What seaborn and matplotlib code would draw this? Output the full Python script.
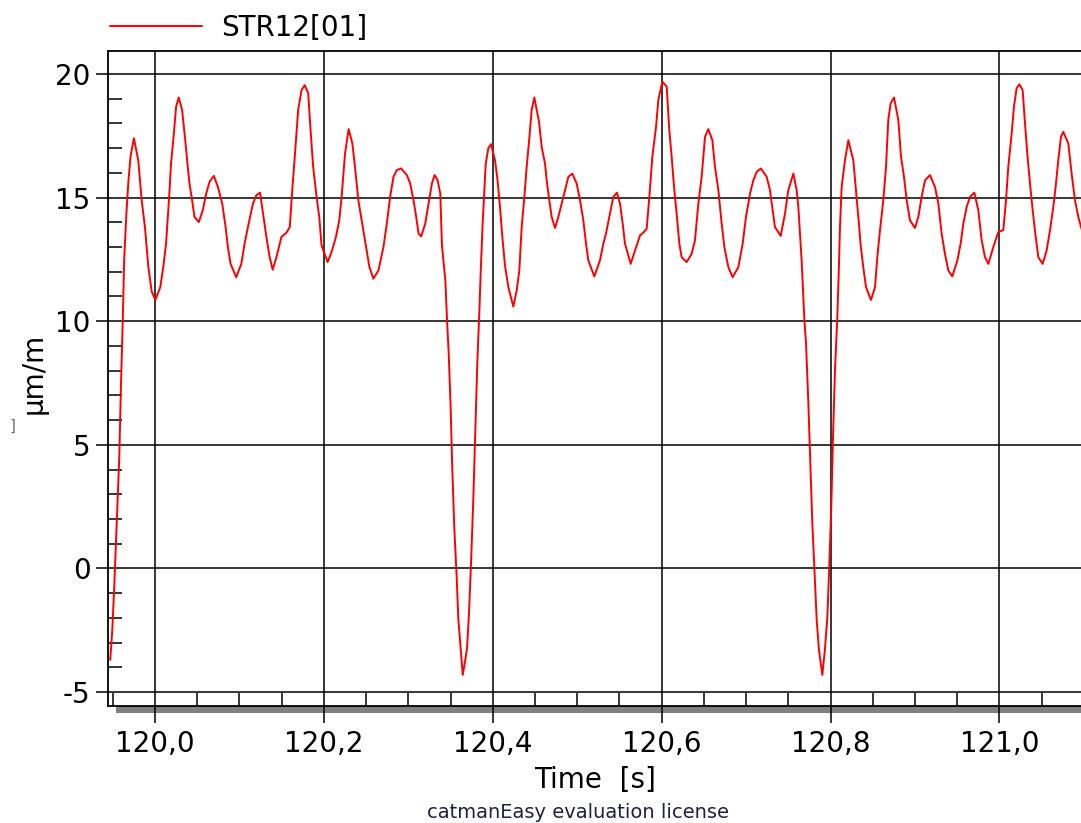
import numpy as np
import pandas as pd
import matplotlib
matplotlib.use("Agg")
import matplotlib.pyplot as plt
import seaborn as sns
from matplotlib.ticker import FixedLocator, FuncFormatter
from matplotlib.patches import Rectangle

# ---------------- data ----------------
time_s = [
    119.9470, 119.9494, 119.9518, 119.9546, 119.9577, 119.9597, 119.9618, 119.9635,
    119.9662, 119.9686, 119.9712, 119.9750, 119.9802, 119.9842, 119.9881, 119.9921,
    119.9961, 120.0004, 120.0063, 120.0103, 120.0131, 120.0150, 120.0170, 120.0190,
    120.0218, 120.0250, 120.0281, 120.0321, 120.0360, 120.0388, 120.0408, 120.0440,
    120.0467, 120.0519, 120.0566, 120.0606, 120.0646, 120.0697, 120.0745, 120.0796,
    120.0836, 120.0863, 120.0895, 120.0962, 120.1022, 120.1061, 120.1109, 120.1160,
    120.1200, 120.1244, 120.1279, 120.1319, 120.1358, 120.1394, 120.1438, 120.1497,
    120.1556, 120.1596, 120.1628, 120.1655, 120.1695, 120.1735, 120.1774, 120.1814,
    120.1842, 120.1873, 120.1913, 120.1945, 120.1972, 120.2044, 120.2091, 120.2143,
    120.2182, 120.2210, 120.2250, 120.2293, 120.2337, 120.2368, 120.2408, 120.2467,
    120.2507, 120.2539, 120.2586, 120.2646, 120.2705, 120.2745, 120.2784, 120.2824,
    120.2863, 120.2915, 120.2982, 120.3022, 120.3061, 120.3093, 120.3121, 120.3152,
    120.3200, 120.3240, 120.3279, 120.3311, 120.3347, 120.3378, 120.3398, 120.3438,
    120.3460, 120.3478, 120.3501, 120.3520, 120.3544, 120.3573, 120.3592, 120.3620,
    120.3644, 120.3671, 120.3695, 120.3718, 120.3742, 120.3769, 120.3793, 120.3817,
    120.3840, 120.3858, 120.3880, 120.3916, 120.3947, 120.3979, 120.4026, 120.4054,
    120.4085, 120.4113, 120.4144, 120.4184, 120.4243, 120.4283, 120.4314, 120.4342,
    120.4374, 120.4401, 120.4429, 120.4460, 120.4492, 120.4547, 120.4579, 120.4618,
    120.4638, 120.4669, 120.4697, 120.4737, 120.4776, 120.4816, 120.4855, 120.4895,
    120.4942, 120.4993, 120.5033, 120.5072, 120.5104, 120.5131, 120.5202, 120.5269,
    120.5309, 120.5340, 120.5388, 120.5427, 120.5471, 120.5506, 120.5538, 120.5565,
    120.5633, 120.5684, 120.5743, 120.5790, 120.5822, 120.5854, 120.5889, 120.5933,
    120.5960, 120.6008, 120.6059, 120.6090, 120.6118, 120.6146, 120.6177, 120.6209,
    120.6236, 120.6296, 120.6355, 120.6394, 120.6434, 120.6473, 120.6513, 120.6552,
    120.6600, 120.6631, 120.6671, 120.6710, 120.6742, 120.6789, 120.6840, 120.6908,
    120.6959, 120.6998, 120.7046, 120.7085, 120.7125, 120.7174, 120.7243, 120.7282,
    120.7314, 120.7341, 120.7409, 120.7460, 120.7499, 120.7559, 120.7598, 120.7618,
    120.7657, 120.7689, 120.7709, 120.7736, 120.7760, 120.7783, 120.7812, 120.7835,
    120.7862, 120.7902, 120.7932, 120.7961, 120.7984, 120.8008, 120.8028, 120.8052,
    120.8079, 120.8095, 120.8111, 120.8131, 120.8170, 120.8210, 120.8269, 120.8308,
    120.8332, 120.8356, 120.8387, 120.8419, 120.8478, 120.8526, 120.8553, 120.8585,
    120.8624, 120.8656, 120.8683, 120.8711, 120.8751, 120.8802, 120.8834, 120.8869,
    120.8901, 120.8940, 120.8999, 120.9039, 120.9078, 120.9118, 120.9177, 120.9236,
    120.9276, 120.9315, 120.9354, 120.9394, 120.9441, 120.9501, 120.9540, 120.9572,
    120.9611, 120.9651, 120.9702, 120.9749, 120.9789, 120.9828, 120.9868, 120.9927,
    120.9986, 121.0045, 121.0077, 121.0104, 121.0144, 121.0171, 121.0203, 121.0235,
    121.0274, 121.0302, 121.0329, 121.0361, 121.0393, 121.0424, 121.0460, 121.0511,
    121.0558, 121.0598, 121.0637, 121.0669, 121.0696, 121.0728, 121.0755, 121.0815,
    121.0854, 121.0894, 121.0933, 121.0965, 121.1000,
]

strain_um_m = [
    -3.70, -2.50, -0.70, 1.80, 4.50, 7.40, 10.00, 12.50,
    14.40, 15.70, 16.70, 17.40, 16.50, 14.90, 13.80, 12.20,
    11.20, 10.86, 11.38, 12.32, 13.14, 14.15, 15.16, 16.38,
    17.39, 18.68, 19.05, 18.54, 17.26, 16.24, 15.57, 14.89,
    14.22, 14.01, 14.49, 15.16, 15.64, 15.88, 15.43, 14.76,
    13.81, 13.00, 12.32, 11.78, 12.32, 13.14, 13.95, 14.76,
    15.09, 15.20, 14.35, 13.41, 12.59, 12.08, 12.59, 13.41,
    13.58, 13.81, 15.43, 16.65, 18.54, 19.35, 19.55, 19.22,
    17.73, 16.24, 15.03, 14.22, 13.07, 12.39, 12.80, 13.41,
    14.08, 15.03, 16.78, 17.77, 17.19, 16.24, 14.89, 13.68,
    12.86, 12.19, 11.72, 12.05, 13.00, 13.95, 15.03, 15.84,
    16.11, 16.18, 15.91, 15.57, 14.89, 14.22, 13.54, 13.43,
    13.95, 14.76, 15.57, 15.91, 15.70, 15.16, 13.07, 11.65,
    9.90, 8.70, 6.48, 4.05, 1.66, -0.40, -2.06, -3.30,
    -4.31, -3.77, -3.23, -1.82, 0.20, 2.77, 5.60, 8.36,
    10.32, 12.10, 13.96, 16.36, 17.00, 17.16, 16.51, 15.77,
    14.62, 13.41, 12.26, 11.38, 10.59, 11.24, 12.05, 13.81,
    15.03, 16.24, 17.26, 18.54, 19.05, 18.07, 17.05, 16.38,
    15.70, 14.89, 14.22, 13.77, 14.22, 14.76, 15.30, 15.84,
    15.97, 15.57, 14.89, 14.08, 13.14, 12.46, 11.81, 12.46,
    13.14, 13.54, 14.35, 15.03, 15.20, 14.76, 13.95, 13.14,
    12.32, 12.86, 13.47, 13.61, 13.74, 15.03, 16.65, 17.86,
    18.95, 19.69, 19.49, 17.73, 16.65, 15.43, 14.35, 13.14,
    12.59, 12.39, 12.73, 13.27, 14.76, 15.84, 17.46, 17.77,
    17.32, 16.24, 15.30, 13.95, 13.00, 12.19, 11.78, 12.19,
    13.14, 14.22, 15.16, 15.70, 16.04, 16.18, 15.84, 15.30,
    14.49, 13.81, 13.45, 14.35, 15.30, 15.97, 15.30, 14.62,
    12.46, 10.09, 9.10, 6.74, 4.25, 1.89, -0.31, -2.06,
    -3.30, -4.31, -3.30, -2.02, 0.07, 2.50, 5.26, 8.03,
    10.12, 11.80, 13.81, 15.43, 16.51, 17.32, 16.51, 15.03,
    14.08, 13.07, 12.19, 11.38, 10.86, 11.38, 12.59, 13.68,
    14.89, 16.24, 18.14, 18.81, 19.05, 18.14, 16.65, 15.84,
    14.89, 14.08, 13.77, 14.22, 15.03, 15.70, 15.91, 15.43,
    14.76, 13.54, 12.73, 12.05, 11.81, 12.46, 13.14, 13.95,
    14.62, 15.03, 15.20, 14.49, 13.27, 12.59, 12.32, 13.00,
    13.61, 13.68, 14.89, 16.24, 17.59, 18.68, 19.42, 19.58,
    19.35, 18.00, 16.78, 15.57, 14.49, 13.54, 12.59, 12.32,
    12.86, 13.68, 14.62, 15.57, 16.51, 17.46, 17.66, 17.19,
    15.97, 14.89, 14.22, 13.81, 13.40,
]

series_name = "STR12[01]"
x_major_ticks = [120.0, 120.2, 120.4, 120.6, 120.8, 121.0]
y_major_ticks = [-5, 0, 5, 10, 15, 20]
y_minor_ticks = [-4, -3, -2, -1, 1, 2, 3, 4, 6, 7, 8, 9, 11, 12, 13, 14, 16, 17, 18, 19]
x_minor_ticks = [119.95, 120.05, 120.1, 120.15, 120.25, 120.3, 120.35, 120.45, 120.5,
                 120.55, 120.65, 120.7, 120.75, 120.85, 120.9, 120.95, 121.05]
x_label = "Time  [s]"
y_label = "µm/m"
footer_text = "catmanEasy evaluation license"

# ---------------- style ----------------
sns.set_style("ticks")
plt.rcParams["font.family"] = ["DejaVu Sans"]
plt.rcParams["axes.unicode_minus"] = False
plt.rcParams["text.color"] = "black"

W, H = 1081, 823
fig = plt.figure(figsize=(W / 100, H / 100), dpi=100)
fig.patch.set_facecolor("white")
ax = fig.add_axes([108 / W, 1 - 706 / H, (W - 108) / W, 655 / H])

df = pd.DataFrame({"t": time_s, "v": strain_um_m})
sns.lineplot(data=df, x="t", y="v", ax=ax, color="#ff0000", linewidth=1.4,
             label=series_name, estimator=None, sort=False)

ax.set_xlim(119.94435, 121.09651)
ax.set_ylim(-5.566, 20.930)

ax.xaxis.set_major_locator(FixedLocator(x_major_ticks))
ax.xaxis.set_minor_locator(FixedLocator(x_minor_ticks))
ax.yaxis.set_major_locator(FixedLocator(y_major_ticks))
ax.yaxis.set_minor_locator(FixedLocator(y_minor_ticks))
ax.xaxis.set_major_formatter(FuncFormatter(lambda v, p: f"{v:.1f}".replace(".", ",")))
ax.yaxis.set_major_formatter(FuncFormatter(lambda v, p: f"{v:.0f}"))

ax.tick_params(axis="x", which="major", direction="out", length=12.2, width=1.1,
               pad=5, labelsize=20, colors="black", bottom=True, top=False)
ax.tick_params(axis="x", which="minor", direction="in", length=9.6, width=1.1,
               bottom=True, top=False, color="black")
ax.tick_params(axis="y", which="major", direction="out", length=8.6, width=1.1,
               pad=4, labelsize=20, colors="black", left=True, right=False)
ax.tick_params(axis="y", which="minor", direction="in", length=10, width=1.1,
               left=True, right=False, color="black")

ax.grid(True, which="major", color="black", linewidth=1.1)
ax.set_axisbelow(True)

for side in ["top", "left", "bottom"]:
    ax.spines[side].set_color("black")
    ax.spines[side].set_linewidth(1.3)
ax.spines["right"].set_visible(False)

ax.set_xlabel(x_label, fontsize=20, color="black")
ax.set_ylabel(y_label, fontsize=20, color="black")
ax.xaxis.set_label_coords((595 - 108) / (W - 108), (706 - 780) / 655)
ax.xaxis.label.set_va("center")
ax.yaxis.set_label_coords((34 - 108) / (W - 108), (706 - 373) / 655)
ax.yaxis.label.set_va("center")

ax.legend(loc="center left", bbox_to_anchor=(110 / W, 1 - 28 / H),
          bbox_transform=fig.transFigure, frameon=False, fontsize=20,
          handlelength=3.3, handletextpad=0.7, borderpad=0, borderaxespad=0,
          labelcolor="black")

# decorations of the catman frame
fig.add_artist(Rectangle((116 / W, 1 - 713 / H), (W - 116) / W, 7 / H,
                         transform=fig.transFigure, facecolor="#808080",
                         edgecolor="none", zorder=-1))
fig.text(13 / W, 1 - 426 / H, "]", fontsize=11, color="#707070",
         ha="center", va="center")
fig.text(578 / W, 1 - 812 / H, footer_text, fontsize=14, color="#202040",
         ha="center", va="center")

fig.savefig("out.png", dpi=100)
